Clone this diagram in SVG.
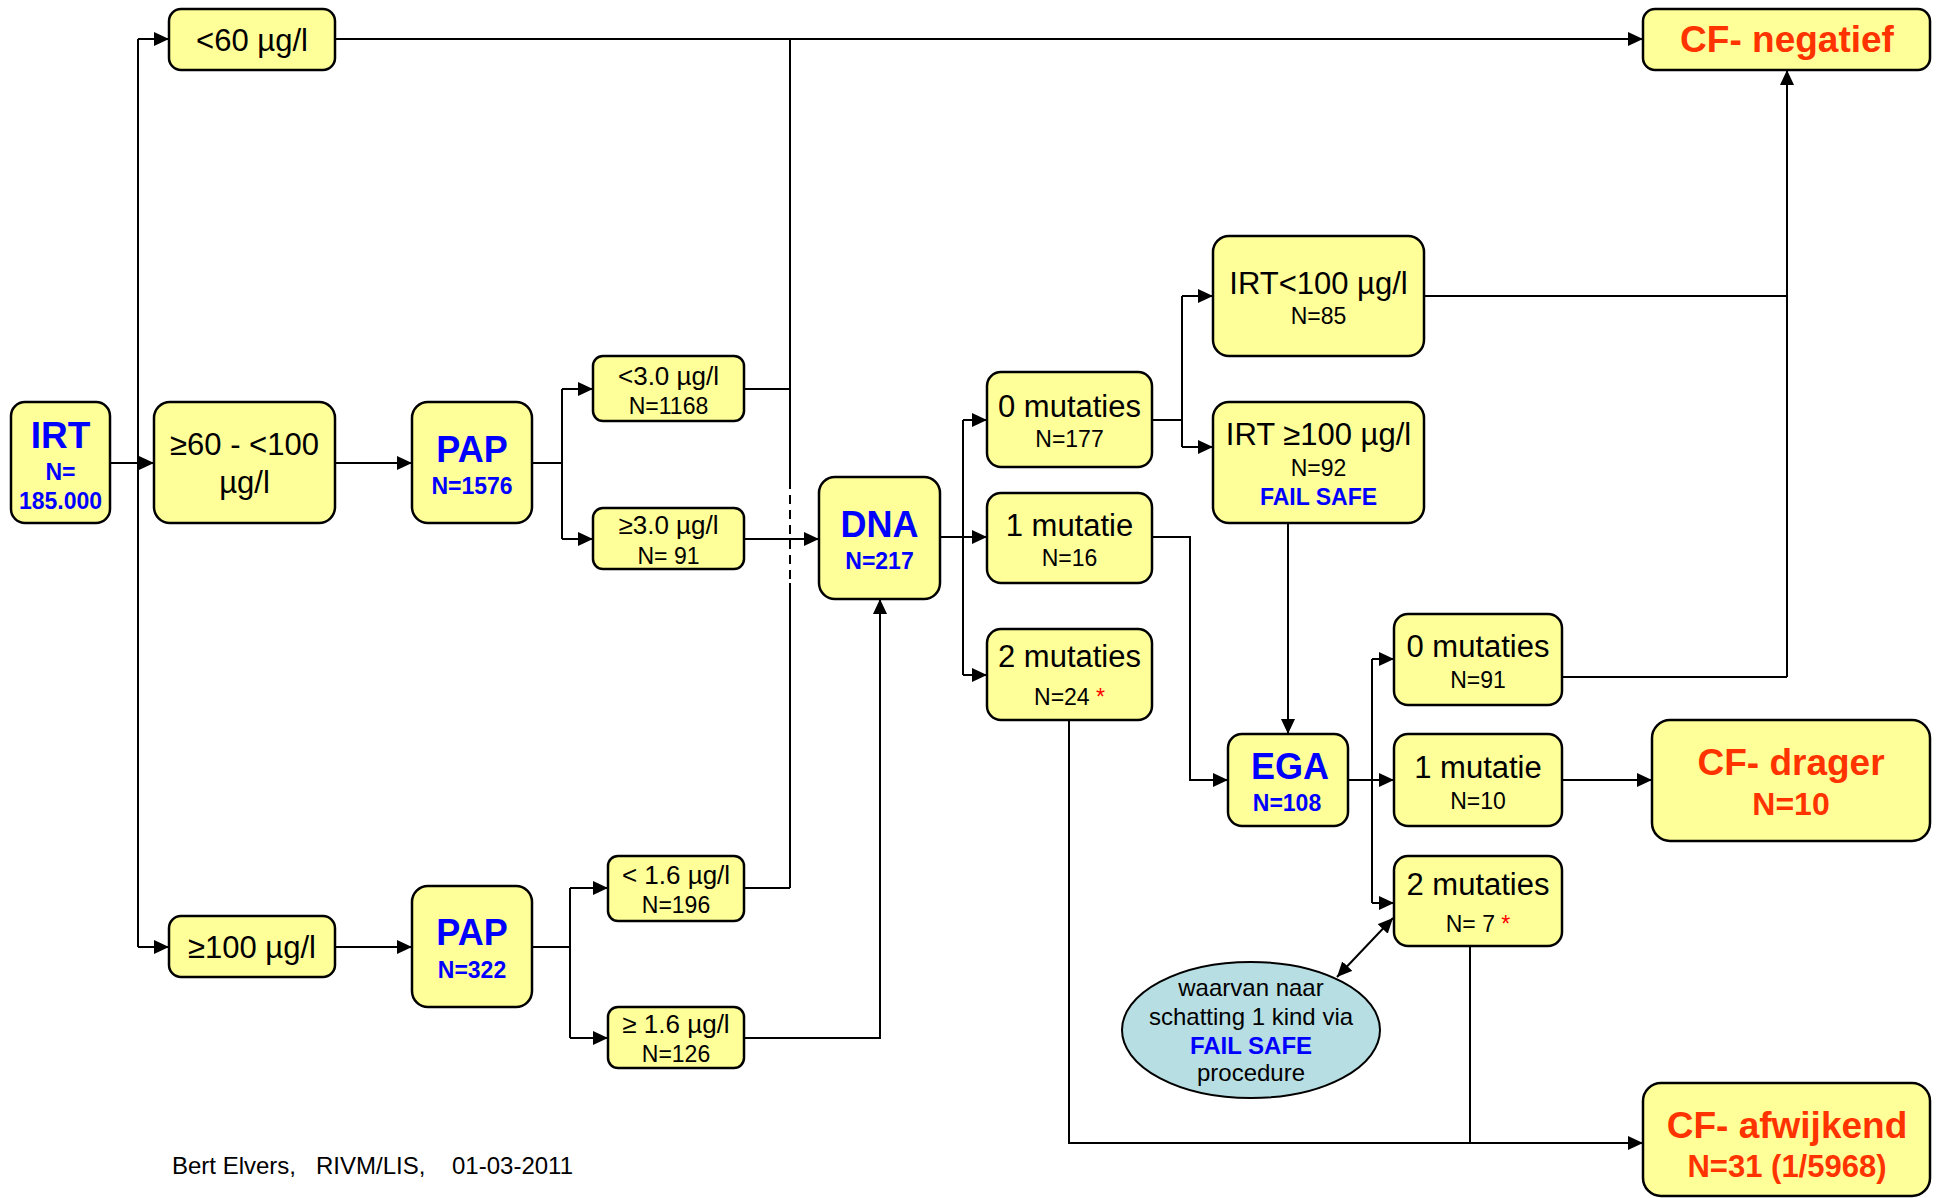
<svg xmlns="http://www.w3.org/2000/svg" width="1937" height="1198" viewBox="0 0 1937 1198">
<style>
.box{fill:#FFFF99;stroke:#000;stroke-width:2.5}
.ell{fill:#B7DEE2;stroke:#000;stroke-width:2}
text{font-family:"Liberation Sans",Arial,sans-serif;text-anchor:middle;fill:#000}
.big{font-size:31px}
.mid{font-size:26px}
.sm{font-size:23px}
.bb{font-size:36px;font-weight:bold;fill:#0000FF}
.bn{font-size:23px;font-weight:bold;fill:#0000FF}
.red{font-size:37px;font-weight:bold;fill:#FF3300}
.rn{font-weight:bold;fill:#FF3300}
.ast{fill:#FF0000}
.c{fill:none;stroke:#000;stroke-width:2}
.ca{fill:none;stroke:#000;stroke-width:2;marker-end:url(#ah)}
</style>
<defs>
<marker id="ah" markerUnits="userSpaceOnUse" markerWidth="16" markerHeight="14" refX="15" refY="7" orient="auto">
<path d="M0,0 L15,7 L0,14 z" fill="#000"/>
</marker>
<marker id="ahs" markerUnits="userSpaceOnUse" markerWidth="16" markerHeight="14" refX="15" refY="7" orient="auto-start-reverse">
<path d="M0,0 L15,7 L0,14 z" fill="#000"/>
</marker>
</defs>
<g id="connectors">
<path class="c" d="M110,463 H138 M138,39 V947"/>
<path class="ca" d="M138,39 H169"/>
<path class="ca" d="M138,463 H154"/>
<path class="ca" d="M138,947 H169"/>
<path class="ca" d="M335,39 H1643"/>
<path class="ca" d="M335,463 H412"/>
<path class="c" d="M532,463 H562 M562,389 V539"/>
<path class="ca" d="M562,389 H593"/>
<path class="ca" d="M562,539 H593"/>
<path class="c" d="M744,389 H790 M790,39 V480 M790,583 V888 M744,888 H790"/>
<path class="c" d="M790,480 V583" stroke-dasharray="9,6"/>
<path class="ca" d="M744,539 H819"/>
<path class="ca" d="M335,947 H412"/>
<path class="c" d="M532,947 H570 M570,888 V1038"/>
<path class="ca" d="M570,888 H608"/>
<path class="ca" d="M570,1038 H608"/>
<path class="ca" d="M744,1038 H880 V599"/>
<path class="c" d="M940,537 H963 M963,420 V675"/>
<path class="ca" d="M963,420 H987"/>
<path class="ca" d="M963,537 H987"/>
<path class="ca" d="M963,675 H987"/>
<path class="c" d="M1152,420 H1182 M1182,296 V447"/>
<path class="ca" d="M1182,296 H1213"/>
<path class="ca" d="M1182,447 H1213"/>
<path class="c" d="M1424,296 H1787 M1562,677 H1787"/>
<path class="ca" d="M1787,677 V70"/>
<path class="ca" d="M1288,523 V734"/>
<path class="ca" d="M1152,537 H1190 V780 H1228"/>
<path class="ca" d="M1069,720 V1143 H1643"/>
<path class="c" d="M1470,946 V1143"/>
<path class="c" d="M1348,780 H1372 M1372,659 V903"/>
<path class="ca" d="M1372,659 H1394"/>
<path class="ca" d="M1372,780 H1394"/>
<path class="ca" d="M1372,903 H1394"/>
<path class="ca" d="M1562,780 H1652"/>
<path class="ca" d="M1337,977 L1393,918" style="marker-start:url(#ahs)"/>
</g>
<g id="irt"><rect class="box" x="11" y="402" width="99" height="121" rx="14"/>
<text x="60.5" y="448" class="bb" style="font-size:37px">IRT</text>
<text x="60.5" y="480" class="bn">N=</text>
<text x="60.5" y="509" class="bn">185.000</text></g>
<g id="lt60"><rect class="box" x="169" y="9" width="166" height="61" rx="12"/>
<text x="252" y="51" class="big">&lt;60 µg/l</text></g>
<g id="mid60"><rect class="box" x="154" y="402" width="181" height="121" rx="16"/>
<text x="244.5" y="455" class="big">≥60 - &lt;100</text>
<text x="244.5" y="493" class="big">µg/l</text></g>
<g id="pap1"><rect class="box" x="412" y="402" width="120" height="121" rx="16"/>
<text x="472" y="462" class="bb">PAP</text>
<text x="472" y="494" class="bn">N=1576</text></g>
<g id="lt3"><rect class="box" x="593" y="356" width="151" height="65" rx="10"/>
<text x="668.5" y="385" class="mid">&lt;3.0 µg/l</text>
<text x="668.5" y="414" class="sm">N=1168</text></g>
<g id="ge3"><rect class="box" x="593" y="508" width="151" height="61" rx="10"/>
<text x="668.5" y="534" class="mid">≥3.0 µg/l</text>
<text x="668.5" y="564" class="sm">N= 91</text></g>
<g id="ge100"><rect class="box" x="169" y="916" width="166" height="61" rx="12"/>
<text x="252" y="958" class="big">≥100 µg/l</text></g>
<g id="pap2"><rect class="box" x="412" y="886" width="120" height="121" rx="16"/>
<text x="472" y="945" class="bb">PAP</text>
<text x="472" y="978" class="bn">N=322</text></g>
<g id="lt16"><rect class="box" x="608" y="856" width="136" height="65" rx="10"/>
<text x="676" y="884" class="mid">&lt; 1.6 µg/l</text>
<text x="676" y="913" class="sm">N=196</text></g>
<g id="ge16"><rect class="box" x="608" y="1007" width="136" height="61" rx="10"/>
<text x="676" y="1033" class="mid">≥ 1.6 µg/l</text>
<text x="676" y="1062" class="sm">N=126</text></g>
<g id="dna"><rect class="box" x="819" y="477" width="121" height="122" rx="16"/>
<text x="879.5" y="537" class="bb">DNA</text>
<text x="879.5" y="569" class="bn">N=217</text></g>
<g id="mut0"><rect class="box" x="987" y="372" width="165" height="95" rx="14"/>
<text x="1069.5" y="417" class="big">0 mutaties</text>
<text x="1069.5" y="447" class="sm">N=177</text></g>
<g id="mut1"><rect class="box" x="987" y="493" width="165" height="90" rx="14"/>
<text x="1069.5" y="536" class="big">1 mutatie</text>
<text x="1069.5" y="566" class="sm">N=16</text></g>
<g id="mut2"><rect class="box" x="987" y="629" width="165" height="91" rx="14"/>
<text x="1069.5" y="667" class="big">2 mutaties</text>
<text x="1069.5" y="705" class="sm">N=24 <tspan class="ast">*</tspan></text></g>
<g id="irtlt100"><rect class="box" x="1213" y="236" width="211" height="120" rx="16"/>
<text x="1318.5" y="294" class="big">IRT&lt;100 µg/l</text>
<text x="1318.5" y="324" class="sm">N=85</text></g>
<g id="irtge100"><rect class="box" x="1213" y="402" width="211" height="121" rx="16"/>
<text x="1318.5" y="445" class="big">IRT ≥100 µg/l</text>
<text x="1318.5" y="476" class="sm">N=92</text>
<text x="1318.5" y="505" class="bn">FAIL SAFE</text></g>
<g id="ega"><rect class="box" x="1228" y="734" width="120" height="92" rx="14"/>
<text x="1290" y="779" class="bb">EGA</text>
<text x="1287" y="811" class="bn">N=108</text></g>
<g id="ega0"><rect class="box" x="1394" y="614" width="168" height="91" rx="14"/>
<text x="1478" y="657" class="big">0 mutaties</text>
<text x="1478" y="688" class="sm">N=91</text></g>
<g id="ega1"><rect class="box" x="1394" y="734" width="168" height="92" rx="14"/>
<text x="1478" y="778" class="big">1 mutatie</text>
<text x="1478" y="809" class="sm">N=10</text></g>
<g id="ega2"><rect class="box" x="1394" y="856" width="168" height="90" rx="14"/>
<text x="1478" y="895" class="big">2 mutaties</text>
<text x="1478" y="932" class="sm">N= 7 <tspan class="ast">*</tspan></text></g>
<g id="cfneg"><rect class="box" x="1643" y="9" width="287" height="61" rx="12"/>
<text x="1787" y="52" class="red">CF- negatief</text></g>
<g id="cfdrager"><rect class="box" x="1652" y="720" width="278" height="121" rx="18"/>
<text x="1791" y="775" class="red">CF- drager</text>
<text x="1791" y="815" class="rn" style="font-size:32px">N=10</text></g>
<g id="cfafw"><rect class="box" x="1643" y="1083" width="287" height="113" rx="18"/>
<text x="1787" y="1138" class="red">CF- afwijkend</text>
<text x="1787" y="1177" class="rn" style="font-size:31px">N=31 (1/5968)</text></g>
<g id="failsafe"><ellipse class="ell" cx="1251" cy="1030" rx="129" ry="68"/>
<text x="1251" y="996" class="sm" style="font-size:24px">waarvan naar</text>
<text x="1251" y="1025" class="sm" style="font-size:24px">schatting 1 kind via</text>
<text x="1251" y="1054" class="bn" style="font-size:24px">FAIL SAFE</text>
<text x="1251" y="1081" class="sm" style="font-size:24px">procedure</text></g>
<g id="footer"><text y="1174" style="font-size:24px;text-anchor:start"><tspan x="172">Bert Elvers,</tspan><tspan x="316">RIVM/LIS,</tspan><tspan x="452">01-03-2011</tspan></text></g>
</svg>
